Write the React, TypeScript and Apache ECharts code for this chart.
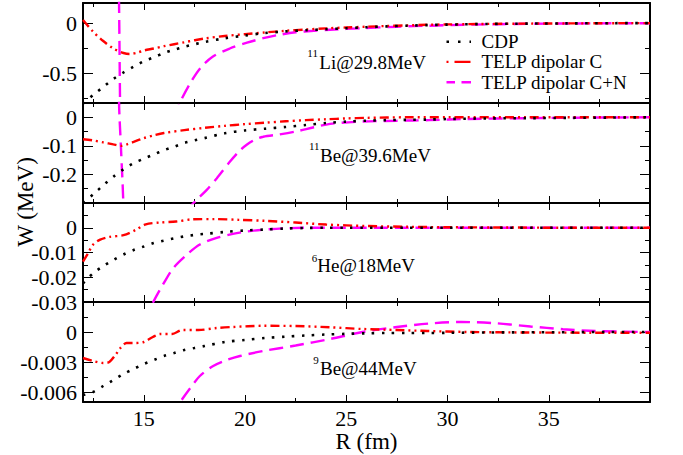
import React, { useEffect, useRef } from "react";
import * as echarts from "echarts";

// ---------- shared axis values ----------
const R_GRID = [12, 12.5, 13, 13.5, 14, 14.5, 15, 15.5, 16, 16.5, 17, 17.5, 18, 19, 20, 21, 22, 23, 24, 25, 26, 27, 28, 29, 30, 32, 34, 36, 38, 40];
const X_MAJOR = [15, 20, 25, 30, 35];
const X_MINOR = [12.5, 17.5, 22.5, 27.5, 32.5, 37.5];

// ---------- panel 1 : 11Li @ 29.8 MeV ----------
const LI_CDP = [-0.81, -0.72, -0.64, -0.56, -0.495, -0.437, -0.383, -0.343, -0.30, -0.267, -0.238, -0.213, -0.19, -0.153, -0.125, -0.10, -0.084, -0.072, -0.062, -0.052, -0.042, -0.034, -0.027, -0.021, -0.016, -0.01, -0.006, -0.004, -0.002, -0.001];
const LI_C_R = [12, 12.5, 13, 13.5, 14, 14.3, 14.7, 15, 15.5, 16, 16.5, 17, 17.5, 18, 19, 20, 21, 22, 23, 24, 25, 26, 27, 28, 29, 30, 32, 34, 36, 38, 40];
const LI_C_W = [0.03, -0.087, -0.18, -0.255, -0.30, -0.31, -0.295, -0.275, -0.255, -0.232, -0.212, -0.193, -0.173, -0.155, -0.13, -0.112, -0.094, -0.078, -0.065, -0.054, -0.045, -0.037, -0.03, -0.024, -0.018, -0.014, -0.009, -0.006, -0.004, -0.002, -0.001];
const LI_CN_R = [13.7, 13.78, 13.83, 13.9, 14.5, 15.5, 16.3, 16.8, 17.3, 17.8, 18.4, 19.25, 20.1, 20.9, 21.7, 22.5, 23.4, 24.2, 25.8, 27.5, 29.1, 31, 34, 37, 40];
const LI_CN_W = [1.5, 0.2, -0.8, -2.0, -4.0, -1.5, -1.02, -0.79, -0.6, -0.45, -0.337, -0.255, -0.197, -0.152, -0.118, -0.093, -0.078, -0.067, -0.052, -0.037, -0.027, -0.017, -0.008, -0.004, -0.002];

// ---------- panel 2 : 11Be @ 39.6 MeV ----------
const BE11_CDP = [-0.30, -0.27, -0.238, -0.208, -0.182, -0.161, -0.145, -0.13, -0.115, -0.103, -0.09, -0.081, -0.073, -0.056, -0.046, -0.04, -0.034, -0.027, -0.02, -0.015, -0.012, -0.01, -0.009, -0.008, -0.006, -0.004, -0.003, -0.002, -0.001, 0];
const BE11_C_R = [12, 12.5, 13, 13.5, 13.9, 14.2, 14.5, 15, 15.5, 16, 17, 18, 19, 20, 21, 22, 23, 24, 25, 26, 28, 30, 34, 40];
const BE11_C_W = [-0.077, -0.081, -0.088, -0.095, -0.1, -0.094, -0.086, -0.073, -0.063, -0.055, -0.045, -0.037, -0.03, -0.024, -0.019, -0.014, -0.01, -0.007, -0.004, -0.002, 0, 0, 0, 0];
const BE11_CN_R = [13.7, 13.78, 13.87, 13.99, 14.2, 15.5, 16.5, 17.2, 17.6, 18.1, 18.6, 19.25, 19.75, 20.1, 20.5, 20.9, 21.7, 22.5, 23.4, 24.2, 25.8, 27.5, 29.1, 31, 34, 37, 40];
const BE11_CN_W = [0.5, 0.05, -0.1, -0.3, -1.0, -0.6, -0.4, -0.32, -0.29, -0.255, -0.214, -0.156, -0.116, -0.095, -0.078, -0.068, -0.06, -0.05, -0.035, -0.023, -0.015, -0.012, -0.01, -0.006, -0.003, -0.001, 0];

// ---------- panel 3 : 6He @ 18 MeV ----------
const HE_CDP = [-0.0225, -0.0184, -0.0155, -0.013, -0.0108, -0.009, -0.0076, -0.0062, -0.0052, -0.0043, -0.0035, -0.0029, -0.0025, -0.0017, -0.0011, -0.0007, -0.0003, -0.0001, 0, 0, 0, 0, 0, 0, 0, 0, 0, 0, 0, 0];
const HE_C_R = [12, 12.25, 12.5, 12.85, 13.3, 14, 14.6, 15.1, 15.8, 16.6, 17.4, 18.5, 19.7, 21, 22.5, 24, 26, 28, 30, 33, 36, 40];
const HE_C_W = [-0.0137, -0.0103, -0.0068, -0.0048, -0.0037, -0.003, -0.0009, 0.0014, 0.0021, 0.0025, 0.0034, 0.0035, 0.0032, 0.0028, 0.0021, 0.0013, 0.0007, 0.0004, 0.0002, 0.0001, 0, 0];
const HE_CN_R = [15, 15.47, 15.96, 16.45, 17.1, 17.77, 18.6, 19.4, 20.1, 20.9, 22, 23, 25, 28, 32, 36, 40];
const HE_CN_W = [-0.038, -0.03, -0.0228, -0.0164, -0.0111, -0.0068, -0.0041, -0.0025, -0.0015, -0.0008, -0.0002, 0, 0, 0, 0, 0, 0];

// ---------- panel 4 : 9Be @ 44 MeV ----------
const BE9_CDP = [-0.0063, -0.006, -0.0054, -0.0048, -0.0042, -0.0037, -0.0032, -0.0028, -0.0024, -0.0021, -0.0018, -0.0016, -0.0014, -0.001, -0.0008, -0.0006, -0.00047, -0.00035, -0.00025, -0.00018, -0.00013, -0.0001, -0.0001, -0.0001, -0.00008, -0.00005, -0.00003, -0.00002, 0, 0];
const BE9_C_R = [12, 12.5, 13, 13.3, 13.6, 13.85, 14.15, 14.6, 15, 15.45, 15.8, 16.4, 16.9, 17.7, 18.6, 19.4, 20.9, 22.5, 24.2, 25.8, 27.5, 29, 31, 34, 37, 40];
const BE9_C_W = [-0.0026, -0.0029, -0.0031, -0.003, -0.0023, -0.0016, -0.0011, -0.0011, -0.001, -0.0005, -0.0002, -0.0002, 0.0002, 0.0002, 0.0004, 0.0005, 0.00062, 0.0006, 0.00047, 0.0003, 0.0002, 0.0001, 0, -0.00005, -0.00007, -0.00008];
const BE9_CN_R = [16.3, 16.8, 17.3, 17.77, 18.43, 19.1, 19.75, 20.9, 22.5, 24.2, 25.8, 27.5, 29.1, 30.7, 32.4, 34.1, 35.7, 37.3, 40];
const BE9_CN_W = [-0.0085, -0.007, -0.0056, -0.0044, -0.0034, -0.0028, -0.0024, -0.0019, -0.00135, -0.0007, 0, 0.0005, 0.00085, 0.001, 0.00087, 0.00055, 0.00028, 0.0001, 0];

// ---------- y axes ----------
const Y_MIN = [-0.8, -0.3, -0.03, -0.007];
const Y_MAX = [0.2, 0.05, 0.01, 0.003];
const Y_LABELS = [[-0.5, 0], [-0.2, -0.1, 0], [-0.03, -0.02, -0.01, 0], [-0.006, -0.003, 0]];
const Y_MAJOR = [[-0.5, 0], [-0.3, -0.2, -0.1, 0], [-0.03, -0.02, -0.01, 0, 0.01], [-0.006, -0.003, 0, 0.003]];
const Y_MINOR = [[-0.75, -0.25], [-0.25, -0.15, -0.05], [-0.025, -0.015, -0.005, 0.005], [-0.0045, -0.0015, 0.0015]];

const SERIES_NAMES = ["CDP", "TELP dipolar C", "TELP dipolar C+N"];
const PANEL_SUP = ["11", "11", "6", "9"];
const PANEL_MAIN = ["Li@29.8MeV", "Be@39.6MeV", "He@18MeV", "Be@44MeV"];

const zip = (xs: number[], ys: number[]) => xs.map((x, i) => [x, ys[i]]);

const FONT = "'Liberation Serif', 'Times New Roman', serif";
const GRID_TOP = [3, 103, 203, 302];
const GRID_H = [100, 100, 99, 100];

const STYLES = [
  { color: "#000000", width: 2.6, type: [2.5, 7.5], legendDash: [2.5, 9] },
  { color: "#ff0000", width: 2.4, type: [9, 4, 2, 4, 2, 4], legendDash: [2, 6, 16, 4] },
  { color: "#ff00ff", width: 2.4, type: [14, 7], legendDash: [8.5, 6.5, 10, 4] },
];

export default function App() {
  const ref = useRef<HTMLDivElement>(null);
  useEffect(() => {
    if (!ref.current) return;
    const chart = echarts.init(ref.current, undefined, { renderer: "svg" });

    const panelData = [
      [zip(R_GRID, LI_CDP), zip(LI_C_R, LI_C_W), zip(LI_CN_R, LI_CN_W)],
      [zip(R_GRID, BE11_CDP), zip(BE11_C_R, BE11_C_W), zip(BE11_CN_R, BE11_CN_W)],
      [zip(R_GRID, HE_CDP), zip(HE_C_R, HE_C_W), zip(HE_CN_R, HE_CN_W)],
      [zip(R_GRID, BE9_CDP), zip(BE9_C_R, BE9_C_W), zip(BE9_CN_R, BE9_CN_W)],
    ];

    const grids: any[] = [];
    const xAxes: any[] = [];
    const yAxes: any[] = [];
    const series: any[] = [];
    const axisLine = { show: true, onZero: false, lineStyle: { color: "#000", width: 2 } };
    const noLine = { show: false, onZero: false };
    const tickStyle = { color: "#000", width: 1 };

    for (let i = 0; i < 4; i++) {
      grids.push({ left: 83, right: 33, top: GRID_TOP[i], height: GRID_H[i], containLabel: false, outerBoundsMode: "none" });
      const last = i === 3;
      const xBase = { type: "value", gridIndex: i, min: 12, max: 40, splitLine: { show: false } };
      xAxes.push({
        ...xBase, position: "bottom", axisLine,
        axisTick: { show: true, inside: true, length: 7, customValues: X_MAJOR, lineStyle: tickStyle },
        axisLabel: { show: last, customValues: X_MAJOR, margin: 5, fontFamily: FONT, fontSize: 22, color: "#000" },
        name: last ? "R (fm)" : "",
        nameLocation: "middle", nameGap: 26,
        nameTextStyle: { fontFamily: FONT, fontSize: 23, color: "#000" },
      });
      xAxes.push({
        ...xBase, position: "bottom", axisLine: noLine,
        axisTick: { show: true, inside: true, length: 4, customValues: X_MINOR, lineStyle: tickStyle },
        axisLabel: { show: false },
      });
      xAxes.push({
        ...xBase, position: "top", axisLine,
        axisTick: { show: true, inside: true, length: 7, customValues: X_MAJOR, lineStyle: tickStyle },
        axisLabel: { show: false },
      });
      xAxes.push({
        ...xBase, position: "top", axisLine: noLine,
        axisTick: { show: true, inside: true, length: 4, customValues: X_MINOR, lineStyle: tickStyle },
        axisLabel: { show: false },
      });

      const yBase = { type: "value", gridIndex: i, min: Y_MIN[i], max: Y_MAX[i], splitLine: { show: false } };
      yAxes.push({
        ...yBase, position: "left", axisLine,
        axisTick: { show: true, inside: true, length: 10, customValues: Y_MAJOR[i], lineStyle: tickStyle },
        axisLabel: {
          show: true, customValues: Y_LABELS[i], margin: 6,
          fontFamily: FONT, fontSize: 22, color: "#000",
          overflow: "none", hideOverlap: false,
          formatter: (v: number) => String(v),
        },
      });
      yAxes.push({
        ...yBase, position: "left", axisLine: noLine,
        axisTick: { show: true, inside: true, length: 5, customValues: Y_MINOR[i], lineStyle: tickStyle },
        axisLabel: { show: false },
      });
      yAxes.push({
        ...yBase, position: "right", axisLine,
        axisTick: { show: true, inside: true, length: 10, customValues: Y_MAJOR[i], lineStyle: tickStyle },
        axisLabel: { show: false },
      });
      yAxes.push({
        ...yBase, position: "right", axisLine: noLine,
        axisTick: { show: true, inside: true, length: 5, customValues: Y_MINOR[i], lineStyle: tickStyle },
        axisLabel: { show: false },
      });

      for (let s = 0; s < 3; s++) {
        series.push({
          type: "line",
          name: SERIES_NAMES[s],
          xAxisIndex: 4 * i,
          yAxisIndex: 4 * i,
          data: panelData[i][s],
          showSymbol: false,
          symbol: "none",
          smooth: 0.3,
          clip: true,
          lineStyle: { color: STYLES[s].color, width: STYLES[s].width, type: STYLES[s].type },
          itemStyle: { color: STYLES[s].color },
          z: 3 - s,
        });
      }
    }

    const supY = [53.3, 146.3, 258, 359.6];
    const supX = [307.3, 309, 311.7, 313.3];
    const mainY = [62.8, 155.2, 265.2, 368.5];
    const mainX = [319.3, 320, 317.3, 320];
    const graphics: any[] = [
      {
        type: "text", x: 25, y: 202, rotation: Math.PI / 2,
        style: { text: "W (MeV)", fontFamily: FONT, fontSize: 23, fill: "#000", align: "center", verticalAlign: "middle" },
      },
    ];
    for (let i = 0; i < 4; i++) {
      graphics.push({
        type: "text", x: supX[i], y: supY[i],
        style: { text: PANEL_SUP[i], fontFamily: FONT, fontSize: 11, fill: "#000", align: "left", verticalAlign: "middle" },
      });
      graphics.push({
        type: "text", x: mainX[i], y: mainY[i],
        style: { text: PANEL_MAIN[i], fontFamily: FONT, fontSize: 19, fill: "#000", align: "left", verticalAlign: "middle" },
      });
    }
    const legendRowY = [41.7, 61.9, 82.3];
    for (let s = 0; s < 3; s++) {
      graphics.push({
        type: "line",
        shape: { x1: 446.5, y1: legendRowY[s], x2: 471, y2: legendRowY[s] },
        style: { stroke: STYLES[s].color, lineWidth: STYLES[s].width, lineDash: STYLES[s].legendDash },
      });
      graphics.push({
        type: "text", x: 481.5, y: legendRowY[s],
        style: { text: SERIES_NAMES[s], fontFamily: FONT, fontSize: 19, fill: "#000", align: "left", verticalAlign: "middle" },
      });
    }

    chart.setOption({
      animation: false,
      backgroundColor: "#ffffff",
      textStyle: { fontFamily: FONT },
      grid: grids,
      xAxis: xAxes,
      yAxis: yAxes,
      series,
      graphic: graphics,
    });
    return () => chart.dispose();
  }, []);
  return <div ref={ref} style={{ width: 683, height: 455, position: "absolute", left: 0, top: 0 }} />;
}
